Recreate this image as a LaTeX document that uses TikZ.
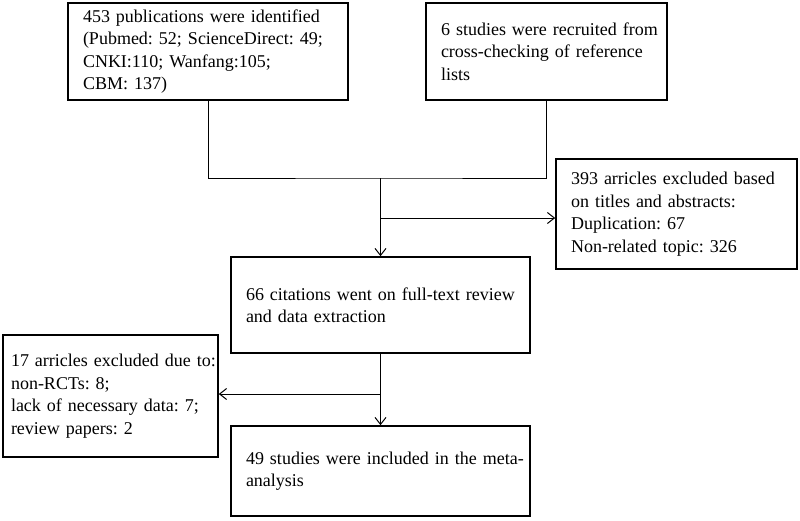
\documentclass[tikz,border=0pt]{standalone}
\usepackage{fontspec}
\setmainfont{Liberation Serif}
\usetikzlibrary{arrows.meta}

\begin{document}
\begin{tikzpicture}
                \tikzset{x=1pt, y=-1pt}
                \tikzstyle{box}=[rectangle, draw, line width=1.6pt, align=left, inner xsep=15pt,
                                 font=\fontsize{18}{22.5}\selectfont\frenchspacing,
                                 execute at begin node={\rightskip=0pt plus 1fil minus 100pt}]
                \tikzstyle{wire}=[line width=1pt]
                \tikzstyle{arr}=[wire, -{Straight Barb[length=7pt, width=11pt, line width=1pt]}]

                \useasboundingbox (0, 0) rectangle (800, 520);

                \draw (208.0, 51.5)     node[box, minimum width=280pt, minimum height=97pt, text width=250pt]  (found)    {453 publications were identified\\(Pubmed: 52; ScienceDirect: 49;\\CNKI:110; Wanfang:105;\\CBM: 137)};
                \draw (546.5, 51.5)     node[box, minimum width=241pt, minimum height=97pt, text width=211pt]  (crossref) {6 studies were recruited from\\cross-checking of reference\\lists};
                \draw (676.5, 214.0)    node[box, minimum width=241pt, minimum height=110pt, text width=211pt] (dropped)  {393 arricles excluded based\\on titles and abstracts:\\Duplication: 67\\Non-related topic: 326};
                \draw (380.5, 305.0)    node[box, minimum width=299pt, minimum height=96pt, text width=269pt]  (fulltext) {66 citations went on full-text review\\and data extraction};
                \draw (110.5, 396.0)    node[box, minimum width=215pt, minimum height=122pt, text width=199pt, inner xsep=8pt] (removed) {17 arricles excluded due to:\\non-RCTs: 8;\\lack of necessary data: 7;\\review papers: 2};
                \draw (380.5, 471.0)    node[box, minimum width=299pt, minimum height=90pt, text width=269pt]  (included) {49 studies were included in the meta-\\analysis};

                \coordinate (join)  at (380.5, 178);
                \coordinate (split) at (380.5, 218);
                \coordinate (drop)  at (380.5, 394);

                \draw [wire]        (found.south) |- (join) -| (crossref.south);
                \draw [arr]         (join) -- (fulltext.north);
                \draw [arr]         (split) -- (split -| dropped.west);
                \draw [arr]         (fulltext.south) -- (included.north);
                \draw [arr]         (drop) -- (drop -| removed.east);
            \end{tikzpicture}
\end{document}
